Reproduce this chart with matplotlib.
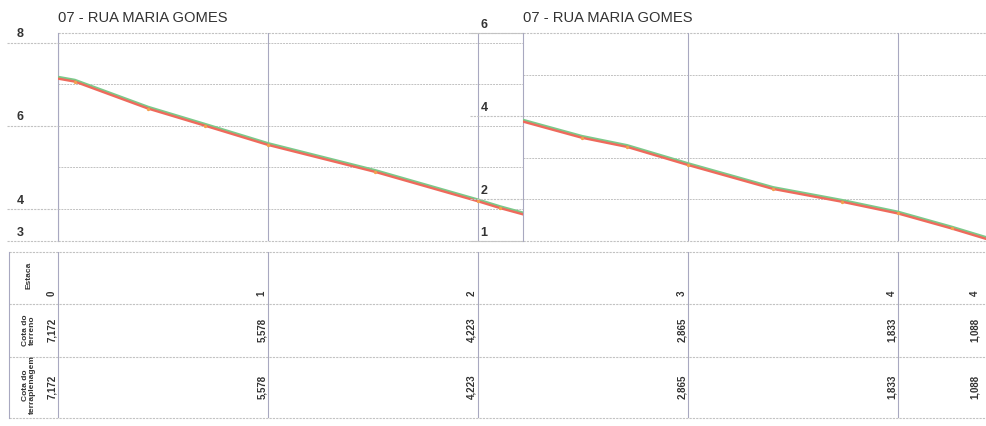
import matplotlib
matplotlib.use("Agg")
import matplotlib.pyplot as plt
import matplotlib.transforms as mtransforms

# profile data (distance in m, elevation in m)
dist = [0, 1.6, 8.6, 14.0, 20.0, 30.2, 40.0, 42.1, 49.9, 54.2, 60.0, 68.1, 74.7, 80.0, 85.1, 88.5]
terreno = [7.172, 7.10, 6.45, 6.04, 5.578, 4.93, 4.223, 4.06, 3.52, 3.30, 2.865, 2.29, 1.98, 1.70, 1.34, 1.08]
greide = [7.172, 7.10, 6.45, 6.04, 5.578, 4.93, 4.223, 4.06, 3.52, 3.30, 2.865, 2.29, 1.98, 1.70, 1.34, 1.08]

# table data
estaca_dist = [0, 20, 40, 60, 80, 87.9]
estaca_lbl = ["0", "1", "2", "3", "4", "4"]
cota_terreno = ["7,172", "5,578", "4,223", "2,865", "1,833", "1,088"]
cota_terrap = ["7,172", "5,578", "4,223", "2,865", "1,833", "1,088"]

title = "07 - RUA MARIA GOMES"
W, H = 987, 426
PXM = 10.5  # pixels per metre on the horizontal scale
GRID = "#c2c2c2"
VLINE = "#a8a8c0"
GREEN = "#7cc98a"
RED = "#ef6a5c"
ORANGE = "#f3a04c"
TXT = "#333333"

fig = plt.figure(figsize=(W / 100, H / 100), dpi=100)
fig.patch.set_facecolor("white")


def px_axes(x0, y0, x1, y1):
    return fig.add_axes([x0 / W, 1 - y1 / H, (x1 - x0) / W, (y1 - y0) / H])


def bare(ax):
    for s in ax.spines.values():
        s.set_visible(False)
    ax.set_xticks([])
    ax.set_yticks([])
    ax.patch.set_alpha(0)


ax1 = px_axes(58, 33, 523, 241)
ax2 = px_axes(523, 33, 987, 241)
axt = px_axes(9, 252, 987, 418)

x_split = 465 / PXM
ax1.set_xlim(0, x_split)
ax2.set_xlim(x_split, 929 / PXM)
ax1.set_ylim(3.23, 8.23)
ax2.set_ylim(1, 6)

panels = [
    (ax1, [4, 5, 6, 7, 8], [8, 6, 4], [0, 20, 40], -51 / 465, -38 / 465),
    (ax2, [2, 3, 4, 5], [6, 4, 2, 1], [60, 80], -53 / 464, -39 / 464),
]
for ax, grid, labels, vlines, tick_x, lab_x in panels:
    bare(ax)
    ymin, ymax = ax.get_ylim()
    tr = mtransforms.blended_transform_factory(ax.transAxes, ax.transData)
    for g in grid:
        ax.axhline(g, color=GRID, lw=0.7, ls=(0, (2, 1)), zorder=1)
    for yy in (ymin, ymax):
        ax.axhline(yy, color=GRID, lw=0.8, ls=(0, (2, 1)), zorder=1, clip_on=False)
    for v in vlines:
        ax.axvline(v, color=VLINE, lw=0.8, zorder=1)
    ax.axvline(ax.get_xlim()[0], color=VLINE, lw=0.8, zorder=1, clip_on=False)
    # long ticks and labels
    for lab in labels:
        ax.plot([tick_x, 0], [lab, lab], transform=tr, color=GRID, lw=0.8,
                ls=(0, (2, 1)), clip_on=False)
        ax.annotate(str(lab), (lab_x, lab), xycoords=tr, xytext=(0, 6),
                    textcoords="offset points", ha="center", va="center",
                    fontsize=9, fontweight="bold", color=TXT,
                    family="Liberation Sans")
    ax.text(0, 1.04, title, transform=ax.transAxes, ha="left", va="bottom",
            fontsize=10.6, color=TXT, family="Liberation Sans")

    # profile lines
    red_tr = mtransforms.offset_copy(ax.transData, fig=fig, y=-1.6, units="dots")
    ax.plot(dist, terreno, color=GREEN, lw=1.9, zorder=3, solid_capstyle="butt")
    ax.plot(dist, greide, color=RED, lw=1.7, zorder=4, transform=red_tr,
            solid_capstyle="butt")
    ax.plot(dist[1:-1], greide[1:-1], ls="none", marker="o", ms=2.4,
            color=ORANGE, mec="none", zorder=5, transform=red_tr)

# left panel datum label
tr1 = mtransforms.blended_transform_factory(ax1.transAxes, ax1.transData)
ax1.plot([-51 / 465, 0], [3.23, 3.23], transform=tr1, color=GRID, lw=0.8,
         ls=(0, (2, 1)), clip_on=False)
ax1.annotate("3", (-38 / 465, 3.23), xycoords=tr1, xytext=(0, 6),
             textcoords="offset points", ha="center", va="center",
             fontsize=9, fontweight="bold", color=TXT, family="Liberation Sans")

# table
bare(axt)
axt.set_xlim(-49 / PXM, 929 / PXM)
axt.set_ylim(166, 0)
for yy in (0, 52, 105, 166):
    axt.axhline(yy, color=GRID, lw=0.8, ls=(0, (2, 1)), clip_on=False)
axt.axvline(-49 / PXM, color=VLINE, lw=0.8, clip_on=False)
for v in estaca_dist[:-1]:
    axt.axvline(v, color=VLINE, lw=0.8)

narrow = ["Liberation Sans Narrow", "Liberation Sans"]
hx = -29 / PXM
axt.text(hx, 23, "Estaca", rotation=90, ha="center", va="center",
         fontsize=6, fontweight="bold", color=TXT, family=narrow)
axt.text(hx, 78, "Cota do\nterreno", rotation=90, ha="center", va="center",
         fontsize=6, fontweight="bold", color=TXT, family=narrow,
         multialignment="center", linespacing=1.1)
axt.text(hx, 133, "Cota do\nterraplenagem", rotation=90, ha="center", va="center",
         fontsize=6, fontweight="bold", color=TXT, family=narrow,
         multialignment="center", linespacing=1.1)

rows = [(estaca_lbl, 41), (cota_terreno, 78), (cota_terrap, 135)]
for vals, yy in rows:
    for d, v in zip(estaca_dist, vals):
        axt.annotate(v, (d, yy), xytext=(-4.5, 0), textcoords="offset points",
                     rotation=90, ha="center", va="center", fontsize=7,
                     fontweight="bold", color=TXT, family=narrow)

fig.savefig("out.png", dpi=100, facecolor="white")
